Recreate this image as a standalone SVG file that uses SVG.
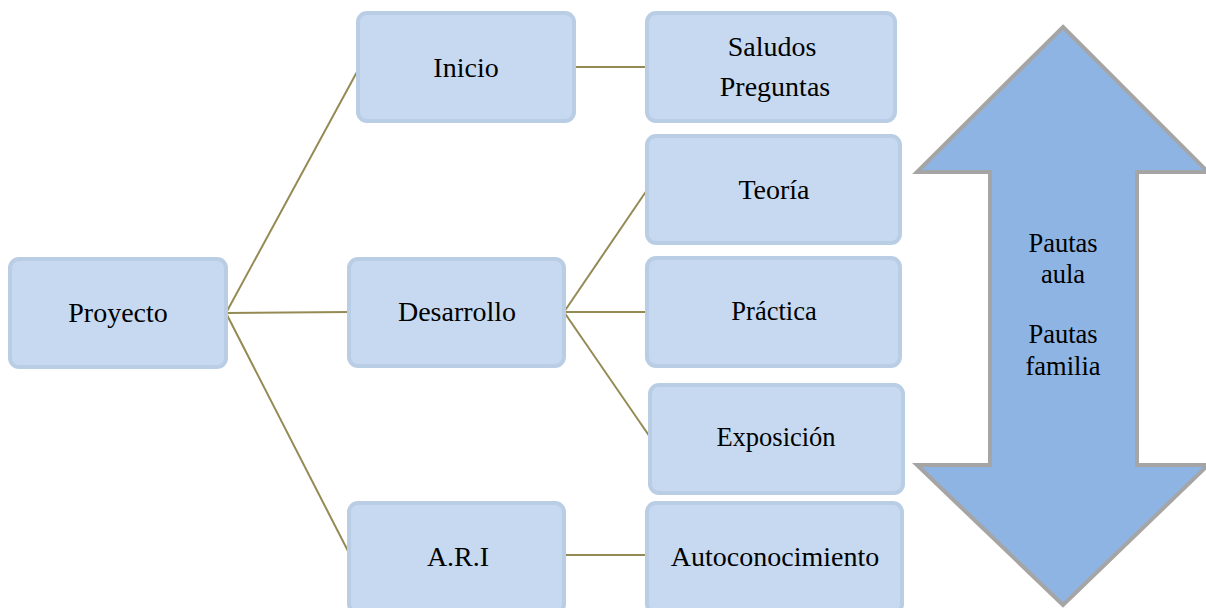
<svg xmlns="http://www.w3.org/2000/svg" width="1206" height="608" viewBox="0 0 1206 608">
<style>
.box{fill:#c6d9f0;stroke:#b9cde5;stroke-width:4}
.t{font-family:"Liberation Serif","Times New Roman",serif;font-size:28px;fill:#000;text-anchor:middle}
.s{font-size:26.5px}
.c{stroke:#948a54;stroke-width:2;fill:none}
</style>
<rect width="1206" height="608" fill="#fff"/>
<g id="connectors">
<line class="c" x1="226" y1="313" x2="358" y2="70"/>
<line class="c" x1="226" y1="313" x2="349" y2="312"/>
<line class="c" x1="226" y1="313" x2="349" y2="553"/>
<line class="c" x1="574" y1="67" x2="647" y2="67"/>
<line class="c" x1="564" y1="312" x2="647" y2="190"/>
<line class="c" x1="564" y1="312" x2="647" y2="312"/>
<line class="c" x1="564" y1="312" x2="650" y2="437"/>
<line class="c" x1="564" y1="555" x2="647" y2="555"/>
</g>
<g id="proyecto"><rect class="box" x="10" y="259" width="216" height="108" rx="9"/><text class="t" x="118" y="322">Proyecto</text></g>
<g id="inicio"><rect class="box" x="358" y="13" width="216" height="108" rx="9"/><text class="t" x="466" y="77">Inicio</text></g>
<g id="desarrollo"><rect class="box" x="349" y="259" width="215" height="107" rx="9"/><text class="t" x="457" y="321">Desarrollo</text></g>
<g id="ari"><rect class="box" x="349" y="503" width="215" height="110" rx="9"/><text class="t" x="458" y="566">A.R.I</text></g>
<g id="saludos"><rect class="box" x="647" y="13" width="248" height="108" rx="9"/><text class="t" x="772" y="56">Saludos</text><text class="t" x="775" y="96">Preguntas</text></g>
<g id="teoria"><rect class="box" x="647" y="136" width="253" height="107" rx="9"/><text class="t" x="774" y="199">Teoría</text></g>
<g id="practica"><rect class="box" x="647" y="258" width="253" height="108" rx="9"/><text class="t s" x="774" y="320">Práctica</text></g>
<g id="exposicion"><rect class="box" x="650" y="385" width="253" height="108" rx="9"/><text class="t s" x="776" y="446">Exposición</text></g>
<g id="autoconocimiento"><rect class="box" x="647" y="503" width="255" height="110" rx="9"/><text class="t" x="775" y="566">Autoconocimiento</text></g>
<g id="pautas">
<polygon points="1063,27 1208,172 1137,172 1137,465 1208,465 1063,605 917,465 990,465 990,172 917,172" fill="#8eb4e3" stroke="#a5a5a5" stroke-width="4"/>
<text class="t s" x="1063" y="252">Pautas</text>
<text class="t s" x="1063" y="283">aula</text>
<text class="t s" x="1063" y="343">Pautas</text>
<text class="t s" x="1063" y="375">familia</text>
</g>
</svg>
